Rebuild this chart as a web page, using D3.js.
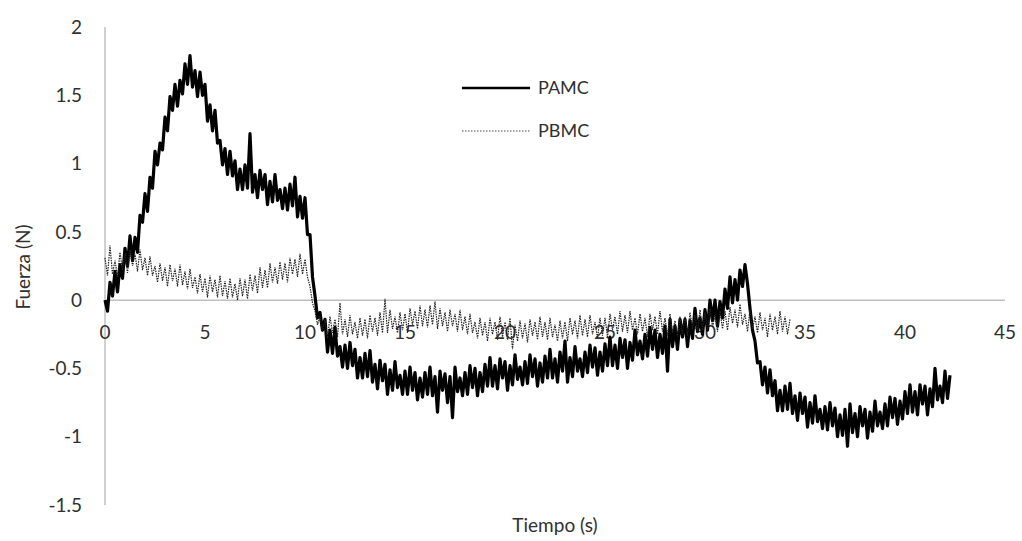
<!DOCTYPE html>
<html>
<head>
<meta charset="utf-8">
<script src="https://cdn.jsdelivr.net/npm/d3@7"></script>
<style>
  body { margin: 0; background: #fff; }
  text { font-family: Lato, "Open Sans", sans-serif; fill: #303030; }
</style>
</head>
<body>
<svg id="chart"></svg>
<script>
// sampled force readings (N), one value every 0.125 s
var step = 0.125;

var pamc = [
  0.00, -0.08, 0.13, 0.03, 0.21, 0.06, 0.26, 0.16,
  0.38, 0.25, 0.47, 0.29, 0.46, 0.35, 0.62, 0.57,
  0.78, 0.65, 0.90, 0.82, 1.09, 0.99, 1.15, 1.10,
  1.34, 1.24, 1.49, 1.39, 1.58, 1.42, 1.61, 1.51,
  1.73, 1.58, 1.79, 1.56, 1.68, 1.49, 1.67, 1.50,
  1.58, 1.31, 1.43, 1.24, 1.39, 1.15, 1.17, 0.99,
  1.11, 0.92, 1.09, 0.91, 1.02, 0.81, 0.96, 0.81,
  0.99, 0.82, 1.22, 0.79, 0.92, 0.75, 0.95, 0.81,
  0.92, 0.70, 0.87, 0.72, 0.92, 0.73, 0.81, 0.67,
  0.82, 0.66, 0.85, 0.69, 0.90, 0.61, 0.76, 0.60,
  0.75, 0.48, 0.48, 0.17, 0.03, -0.13, -0.09, -0.22,
  -0.14, -0.38, -0.22, -0.39, -0.20, -0.41, -0.34, -0.49,
  -0.33, -0.50, -0.31, -0.48, -0.36, -0.57, -0.42, -0.57,
  -0.39, -0.56, -0.37, -0.60, -0.47, -0.65, -0.44, -0.59,
  -0.47, -0.69, -0.51, -0.66, -0.45, -0.64, -0.55, -0.69,
  -0.52, -0.69, -0.49, -0.66, -0.53, -0.73, -0.57, -0.71,
  -0.53, -0.69, -0.49, -0.70, -0.56, -0.82, -0.52, -0.66,
  -0.54, -0.75, -0.56, -0.86, -0.49, -0.67, -0.57, -0.70,
  -0.53, -0.69, -0.48, -0.64, -0.50, -0.70, -0.53, -0.67,
  -0.47, -0.63, -0.42, -0.63, -0.48, -0.65, -0.43, -0.57,
  -0.45, -0.66, -0.48, -0.62, -0.40, -0.58, -0.49, -0.62,
  -0.45, -0.61, -0.40, -0.56, -0.43, -0.63, -0.46, -0.60,
  -0.41, -0.57, -0.36, -0.57, -0.43, -0.60, -0.38, -0.52,
  -0.30, -0.60, -0.42, -0.56, -0.34, -0.52, -0.43, -0.56,
  -0.38, -0.53, -0.33, -0.49, -0.35, -0.55, -0.38, -0.52,
  -0.32, -0.48, -0.27, -0.48, -0.33, -0.50, -0.28, -0.42,
  -0.29, -0.50, -0.31, -0.44, -0.22, -0.40, -0.30, -0.43,
  -0.25, -0.41, -0.20, -0.36, -0.22, -0.42, -0.25, -0.39,
  -0.19, -0.52, -0.14, -0.34, -0.19, -0.36, -0.14, -0.27,
  -0.14, -0.34, -0.15, -0.28, -0.06, -0.23, -0.13, -0.25,
  -0.07, -0.22, 0.00, -0.15, 0.00, -0.19, -0.01, -0.13,
  0.08, -0.06, 0.17, -0.02, 0.15, 0.00, 0.22, 0.10,
  0.26, 0.12, -0.06, -0.22, -0.30, -0.46, -0.45, -0.62,
  -0.49, -0.68, -0.51, -0.70, -0.59, -0.81, -0.66, -0.81,
  -0.63, -0.80, -0.61, -0.83, -0.70, -0.88, -0.68, -0.83,
  -0.71, -0.93, -0.75, -0.90, -0.70, -0.89, -0.80, -0.94,
  -0.78, -0.95, -0.75, -0.92, -0.79, -1.00, -0.84, -0.99,
  -0.80, -1.07, -0.76, -0.97, -0.83, -1.00, -0.78, -0.92,
  -0.80, -1.01, -0.82, -0.96, -0.74, -0.92, -0.82, -0.94,
  -0.76, -0.92, -0.71, -0.86, -0.72, -0.91, -0.74, -0.87,
  -0.67, -0.83, -0.62, -0.82, -0.67, -0.84, -0.62, -0.76,
  -0.63, -0.84, -0.65, -0.78, -0.50, -0.73, -0.63, -0.75,
  -0.52, -0.72, -0.55
];

var pbmc = [
  0.31, 0.18, 0.40, 0.19, 0.29, 0.17, 0.35, 0.22,
  0.34, 0.20, 0.37, 0.25, 0.34, 0.21, 0.37, 0.22,
  0.31, 0.18, 0.32, 0.18, 0.25, 0.13, 0.27, 0.14,
  0.24, 0.10, 0.26, 0.14, 0.23, 0.10, 0.26, 0.11,
  0.21, 0.08, 0.23, 0.09, 0.17, 0.05, 0.19, 0.06,
  0.16, 0.02, 0.18, 0.06, 0.15, 0.02, 0.18, 0.03,
  0.14, 0.01, 0.16, 0.02, 0.12, 0.00, 0.16, 0.03,
  0.15, 0.01, 0.19, 0.07, 0.18, 0.05, 0.24, 0.09,
  0.22, 0.09, 0.27, 0.13, 0.24, 0.12, 0.28, 0.15,
  0.27, 0.13, 0.31, 0.19, 0.30, 0.17, 0.34, 0.19,
  0.30, 0.17, 0.10, -0.02, -0.08, -0.18, -0.12, -0.23,
  -0.14, -0.28, -0.12, -0.24, -0.14, -0.27, -0.02, -0.25,
  -0.14, -0.27, -0.11, -0.25, -0.16, -0.28, -0.13, -0.26,
  -0.14, -0.28, -0.11, -0.23, -0.13, -0.26, -0.09, -0.24,
  0.01, -0.24, -0.07, -0.21, -0.12, -0.24, -0.09, -0.22,
  -0.10, -0.24, -0.06, -0.18, -0.08, -0.21, -0.04, -0.19,
  -0.07, -0.20, -0.04, -0.18, -0.01, -0.21, -0.06, -0.19,
  -0.09, -0.23, -0.07, -0.19, -0.10, -0.23, -0.07, -0.22,
  -0.12, -0.25, -0.10, -0.24, -0.16, -0.28, -0.13, -0.26,
  -0.16, -0.30, -0.13, -0.25, -0.16, -0.29, -0.12, -0.27,
  -0.16, -0.29, -0.13, -0.36, -0.18, -0.30, -0.15, -0.28,
  -0.17, -0.31, -0.14, -0.26, -0.16, -0.29, -0.12, -0.27,
  -0.16, -0.29, -0.13, -0.27, -0.18, -0.30, -0.15, -0.28,
  -0.16, -0.30, -0.13, -0.25, -0.15, -0.28, -0.11, -0.26,
  -0.14, -0.27, -0.11, -0.25, -0.16, -0.28, -0.13, -0.26,
  -0.13, -0.27, -0.10, -0.22, -0.12, -0.25, -0.08, -0.23,
  -0.11, -0.24, -0.08, -0.22, -0.13, -0.25, -0.10, -0.23,
  -0.13, -0.27, -0.10, -0.22, -0.12, -0.25, -0.08, -0.23,
  -0.13, -0.26, -0.10, -0.24, -0.15, -0.27, -0.12, -0.25,
  -0.12, -0.26, -0.09, -0.21, -0.11, -0.24, -0.07, -0.22,
  -0.09, -0.22, -0.06, -0.20, -0.11, -0.23, -0.08, -0.21,
  -0.08, -0.22, -0.05, -0.17, -0.07, -0.20, -0.03, -0.18,
  -0.10, -0.23, -0.07, -0.21, -0.12, -0.24, -0.09, -0.22,
  -0.13, -0.27, -0.10, -0.22, -0.12, -0.25, -0.08, -0.23,
  -0.12, -0.25, -0.14
];

var xTicks = [0, 5, 10, 15, 20, 25, 30, 35, 40, 45];
var yTicks = [-1.5, -1, -0.5, 0, 0.5, 1, 1.5, 2];
var seriesNames = ["PAMC", "PBMC"];

var width = 1022,
    height = 541;

var svg = d3.select("#chart")
    .attr("width", width)
    .attr("height", height);

var x = d3.scaleLinear()
    .domain([0, 45])
    .range([105, 1005]);

var y = d3.scaleLinear()
    .domain([-1.5, 2])
    .range([505, 27]);

// axes: vertical at x=0, horizontal through y=0
svg.append("line")
    .attr("x1", x(0)).attr("x2", x(0))
    .attr("y1", y(2)).attr("y2", y(-1.5))
    .attr("stroke", "#c0c0c0").attr("stroke-width", 1.5);

svg.append("line")
    .attr("x1", x(0)).attr("x2", x(45))
    .attr("y1", y(0)).attr("y2", y(0))
    .attr("stroke", "#c0c0c0").attr("stroke-width", 1.5);

svg.selectAll(".ytick")
    .data(yTicks)
    .enter()
    .append("text")
      .attr("class", "ytick")
      .attr("x", 82)
      .attr("y", function(d){ return y(d); })
      .attr("dy", "0.35em")
      .attr("text-anchor", "end")
      .style("font-size", "19px")
      .text(function(d){ return d; });

svg.selectAll(".xtick")
    .data(xTicks)
    .enter()
    .append("text")
      .attr("class", "xtick")
      .attr("x", function(d){ return x(d); })
      .attr("y", y(0) + 32)
      .attr("dy", "0.35em")
      .attr("text-anchor", "middle")
      .style("font-size", "19px")
      .text(function(d){ return d; });

svg.append("text")
    .attr("transform", "translate(30,267) rotate(-90)")
    .attr("text-anchor", "middle")
    .style("font-size", "19px")
    .text("Fuerza (N)");

svg.append("text")
    .attr("x", 555)
    .attr("y", 532)
    .attr("text-anchor", "middle")
    .style("font-size", "19px")
    .text("Tiempo (s)");

var line = d3.line()
    .x(function(d, i){ return x(i * step); })
    .y(function(d){ return y(d); });

svg.append("path")
    .datum(pamc)
    .attr("d", line)
    .attr("fill", "none")
    .attr("stroke", "#000")
    .attr("stroke-width", 3.2)
    .attr("stroke-linejoin", "round");

svg.append("path")
    .datum(pbmc)
    .attr("d", line)
    .attr("fill", "none")
    .attr("stroke", "#222")
    .attr("stroke-width", 1.2)
    .attr("stroke-dasharray", "1.5,1");

// legend
var legend = svg.selectAll(".legend")
    .data(seriesNames)
    .enter()
    .append("g")
      .attr("class", "legend")
      .attr("transform", function(d, i){ return "translate(462," + (88 + i * 43) + ")"; });

legend.append("line")
    .attr("x1", 0).attr("x2", 68)
    .attr("stroke", function(d, i){ return i == 0 ? "#000" : "#888"; })
    .attr("stroke-width", function(d, i){ return i == 0 ? 2.5 : 1.5; })
    .attr("stroke-dasharray", function(d, i){ return i == 0 ? null : "1.5,1.5"; });

legend.append("text")
    .attr("x", 76)
    .attr("dy", "0.35em")
    .style("font-size", "18px")
    .text(function(d){ return d; });
</script>
</body>
</html>
